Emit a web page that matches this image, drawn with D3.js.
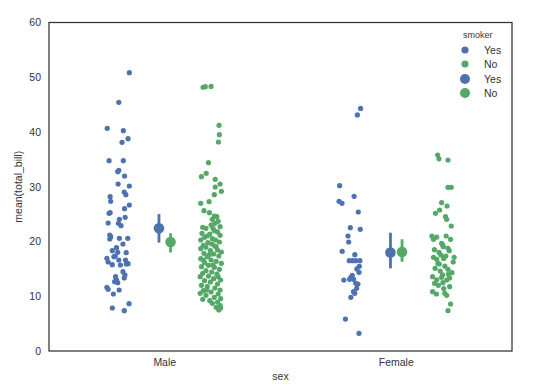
<!DOCTYPE html>
<html>
<head>
<meta charset="utf-8">
<script src="https://cdn.jsdelivr.net/npm/d3@7"></script>
<style>
  body { margin: 0; background: #fff; }
  text { font-family: "Liberation Sans", Arial, sans-serif; }
</style>
</head>
<body>
<svg id="chart" width="540" height="390"></svg>
<script>
// categorie e livelli di hue
const categories = ["Male", "Female"];
const hues = ["Yes", "No"];
const yTicks = [0, 10, 20, 30, 40, 50, 60];

// valori total_bill: [valore, jitter in -1..1]
const maleYes = [
  [50.84, 0.94], [45.42, 0.03], [40.67, -0.97], [40.24, 0.42], [38.78, 0.83], [38.11, 0.31],
  [34.76, -0.81], [34.76, 0.42], [32.76, -0.06], [33.0, 0.03], [31.96, 0.53], [30.5, -0.03],
  [30.14, 0.94], [29.04, 0.5], [28.55, 0.64], [28.19, -0.72], [27.34, -0.67], [26.0, 0.53],
  [26.67, 0.94], [25.27, -0.72], [24.41, 0.58], [24.05, 0.08], [23.38, -0.89], [23.32, 0.0],
  [22.89, 0.22], [21.19, -0.75], [20.46, -0.75], [20.58, 0.08], [20.58, 0.81], [19.54, 0.39],
  [18.87, -0.17], [18.33, -0.53], [18.02, -0.06], [17.96, 0.67], [16.93, -1.0], [17.23, -0.39],
  [16.26, -0.89], [15.77, -0.53], [16.62, 0.03], [15.89, 0.67], [15.95, 0.83], [14.49, 0.39],
  [13.88, 0.56], [13.33, 0.5], [13.58, -0.25], [12.66, -0.33], [12.48, -0.06], [11.63, -1.0],
  [11.26, -0.89], [10.41, -0.44], [11.14, 0.06], [7.85, -0.53], [7.37, 0.5], [8.64, 0.92],
  [17.35, -0.28], [20.88, -0.67], [15.71, 0.17], [12.97, -0.17], [16.62, 0.61], [25.14, -0.81]
];
const maleNo = [
  [48.17, -0.69], [48.27, -0.5], [48.33, 0.0], [41.22, 0.69], [39.51, 0.72], [38.17, 0.64],
  [34.4, -0.22], [31.84, -0.83], [32.45, -0.42], [31.35, 0.36], [30.5, 0.78], [29.95, 0.36],
  [29.16, 0.89], [28.55, 0.28], [26.97, -0.89], [27.28, -0.17], [25.63, -0.61], [25.27, -0.14],
  [24.66, 0.28], [24.54, 0.5], [24.05, 0.11], [23.68, 0.61], [23.32, 0.33], [23.01, 0.0],
  [22.71, 0.78], [22.59, -0.72], [22.41, -0.44], [21.98, 0.28], [21.74, 0.56], [21.49, -0.78],
  [21.37, -0.11], [21.13, 0.78], [20.76, -0.56], [20.52, 0.11], [20.27, 0.39], [20.27, -0.89],
  [19.79, -0.28], [19.91, 0.72], [19.54, 0.06], [19.3, -0.67], [19.18, 0.33], [18.93, -0.44],
  [18.69, -0.89], [18.45, 0.56], [18.33, -0.06], [18.08, 0.89], [17.84, -0.61], [17.72, 0.22],
  [17.23, -0.33], [17.35, 0.67], [16.86, -0.89], [16.62, 0.0], [16.38, 0.44], [16.13, -0.56],
  [16.01, 0.89], [15.65, -0.22], [15.4, -0.83], [15.28, 0.28], [14.92, 0.72], [14.67, -0.44],
  [14.43, 0.06], [14.19, -0.72], [14.06, 0.5], [13.7, -0.22], [13.58, -0.94], [13.21, 0.22],
  [12.97, 0.83], [12.85, -0.56], [12.6, -0.06], [12.24, 0.56], [11.99, -0.83], [11.75, -0.33],
  [11.51, 0.33], [11.14, 0.78], [11.02, -0.67], [10.78, 0.0], [10.53, -0.94], [10.41, 0.61],
  [10.17, -0.44], [9.8, 0.28], [9.56, 0.83], [9.44, -0.72], [9.19, -0.11], [8.95, 0.56],
  [8.71, 0.11], [8.34, 0.78], [7.98, 0.44], [7.85, 0.83], [7.49, 0.67], [22.41, 0.17],
  [21.0, -0.33], [19.06, 0.44], [17.53, -0.17], [16.62, -0.67], [15.71, 0.17], [13.58, 0.61],
  [11.14, -0.39]
];
const femaleYes = [
  [44.3, 0.92], [43.11, 0.64], [30.2, -0.89], [28.25, 0.36], [27.34, -0.94], [26.97, -0.69],
  [25.39, 0.72], [22.53, 0.03], [22.22, 0.89], [21.0, -0.17], [19.91, -0.11], [18.2, -0.67],
  [17.6, 0.42], [16.5, -0.06], [16.5, 0.22], [16.5, 0.5], [16.5, 0.86], [15.46, 0.81],
  [14.37, 0.78], [12.97, -0.53], [13.46, 0.08], [13.09, 0.31], [13.09, -0.03], [12.36, 0.5],
  [12.24, 0.69], [11.45, 0.58], [10.84, 0.31], [10.53, 0.42], [9.8, 0.08], [5.84, -0.39],
  [3.23, 0.78], [15.0, 0.6], [13.8, 0.2]
];
const femaleNo = [
  [35.8, -0.42], [35.1, -0.31], [34.89, 0.47], [29.89, 0.47], [29.89, 0.75], [27.09, -0.08],
  [26.48, 0.39], [25.75, -0.25], [25.14, -0.61], [24.54, 0.25], [24.05, 0.36], [22.83, 0.75],
  [21.0, -0.92], [20.4, -0.78], [21.0, 0.31], [20.4, 0.69], [19.67, -0.08], [19.06, 0.06],
  [18.75, 0.47], [18.33, 0.58], [17.53, -0.14], [17.35, 0.28], [17.11, -0.78], [16.74, -0.5],
  [17.11, 1.0], [16.26, 0.92], [15.89, -0.28], [15.1, -0.64], [14.92, 0.47], [14.31, 0.81],
  [13.58, -0.86], [13.46, -0.08], [13.33, 0.61], [12.97, 0.36], [12.36, -0.69], [11.99, -0.36],
  [12.48, 0.03], [11.75, 0.61], [10.84, -0.86], [10.41, -0.53], [10.53, 0.19], [10.17, 0.36],
  [8.58, 0.69], [7.37, 0.47], [19.4, 0.0], [18.0, -0.3], [16.9, 0.1], [16.0, -0.4],
  [15.5, 0.2], [14.6, -0.2], [14.0, 0.5], [13.0, -0.5], [11.4, 0.1], [20.8, -0.5],
  [18.5, -0.7], [13.9, 0.0]
];

// medie e intervalli di confidenza (pointplot), ordine: Male, Female
const meanYes = [22.4, 18.0];
const ciLowYes = [19.8, 15.1];
const ciHighYes = [25.0, 21.6];
const meanNo = [19.9, 18.1];
const ciLowNo = [18.0, 16.3];
const ciHighNo = [21.5, 20.4];

const colors = { Yes: "#4C72B0", No: "#55A868" };

const margin = { top: 22.5, right: 28, bottom: 39, left: 49 };
const width = 540, height = 390;

const svg = d3.select("#chart");

const x = d3.scaleBand()
  .domain(categories)
  .range([margin.left, width - margin.right])
  .padding(0);

const y = d3.scaleLinear()
  .domain([0, 60])
  .range([height - margin.bottom, margin.top]);

const bw = x.bandwidth();
// spostamento per hue (dodge) in unità di categoria
const stripDodge = { Yes: -0.2, No: 0.2 };
const pointDodge = { Yes: -0.025, No: 0.025 };
const jitterWidth = 0.05;

const strips = [
  { cat: "Male", hue: "Yes", data: maleYes },
  { cat: "Male", hue: "No", data: maleNo },
  { cat: "Female", hue: "Yes", data: femaleYes },
  { cat: "Female", hue: "No", data: femaleNo }
];

// punti della stripplot
strips.forEach(s => {
  const cx = x(s.cat) + bw / 2 + stripDodge[s.hue] * bw;
  svg.append("g")
    .selectAll("circle")
    .data(s.data)
    .enter()
    .append("circle")
    .attr("cx", d => cx + d[1] * jitterWidth * bw)
    .attr("cy", d => y(d[0]))
    .attr("r", 2.6)
    .attr("fill", colors[s.hue]);
});

// pointplot: barre di errore + punto medio
const points = [];
categories.forEach((c, i) => {
  points.push({ cat: c, hue: "Yes", mean: meanYes[i], lo: ciLowYes[i], hi: ciHighYes[i] });
  points.push({ cat: c, hue: "No", mean: meanNo[i], lo: ciLowNo[i], hi: ciHighNo[i] });
});

const pg = svg.append("g");
pg.selectAll("line")
  .data(points)
  .enter()
  .append("line")
  .attr("x1", d => x(d.cat) + bw / 2 + pointDodge[d.hue] * bw)
  .attr("x2", d => x(d.cat) + bw / 2 + pointDodge[d.hue] * bw)
  .attr("y1", d => y(d.lo))
  .attr("y2", d => y(d.hi))
  .attr("stroke", d => colors[d.hue])
  .attr("stroke-width", 2.8);
pg.selectAll("circle")
  .data(points)
  .enter()
  .append("circle")
  .attr("cx", d => x(d.cat) + bw / 2 + pointDodge[d.hue] * bw)
  .attr("cy", d => y(d.mean))
  .attr("r", 5.3)
  .attr("fill", d => colors[d.hue]);

// assi
const yAxis = svg.append("g")
  .attr("transform", `translate(${margin.left},0)`)
  .call(d3.axisLeft(y).tickValues(yTicks).tickSize(0).tickPadding(8));
const xAxis = svg.append("g")
  .attr("transform", `translate(0,${height - margin.bottom})`)
  .call(d3.axisBottom(x).tickSize(0).tickPadding(8));
[yAxis, xAxis].forEach(a => {
  a.select(".domain").remove();
  a.selectAll("text")
    .attr("fill", "#333")
    .style("font-size", "10.5px")
    .style("font-family", "'Liberation Sans', Arial, sans-serif");
});

// cornice
svg.append("rect")
  .attr("x", margin.left)
  .attr("y", margin.top)
  .attr("width", width - margin.left - margin.right)
  .attr("height", height - margin.top - margin.bottom)
  .attr("fill", "none")
  .attr("stroke", "#333")
  .attr("stroke-width", 1.25);

// etichette assi
svg.append("text")
  .attr("x", (margin.left + width - margin.right) / 2)
  .attr("y", 380)
  .attr("text-anchor", "middle")
  .attr("fill", "#333")
  .style("font-size", "10.5px")
  .text("sex");

svg.append("text")
  .attr("transform", `translate(22,${(margin.top + height - margin.bottom) / 2}) rotate(-90)`)
  .attr("text-anchor", "middle")
  .attr("fill", "#333")
  .style("font-size", "10.5px")
  .text("mean(total_bill)");

// legenda
const legend = svg.append("g").attr("transform", "translate(465,0)");
legend.append("text")
  .attr("x", -2)
  .attr("y", 38)
  .attr("fill", "#333")
  .style("font-size", "9px")
  .text("smoker");
const legendItems = [
  { label: "Yes", hue: "Yes", r: 3.6, y: 50 },
  { label: "No", hue: "No", r: 3.6, y: 64 },
  { label: "Yes", hue: "Yes", r: 5, y: 79 },
  { label: "No", hue: "No", r: 5, y: 93 }
];
legendItems.forEach(it => {
  legend.append("circle")
    .attr("cx", 0)
    .attr("cy", it.y)
    .attr("r", it.r)
    .attr("fill", colors[it.hue]);
  legend.append("text")
    .attr("x", 19)
    .attr("y", it.y + 3.5)
    .attr("fill", "#333")
    .style("font-size", "10.5px")
    .text(it.label);
});
</script>
</body>
</html>
